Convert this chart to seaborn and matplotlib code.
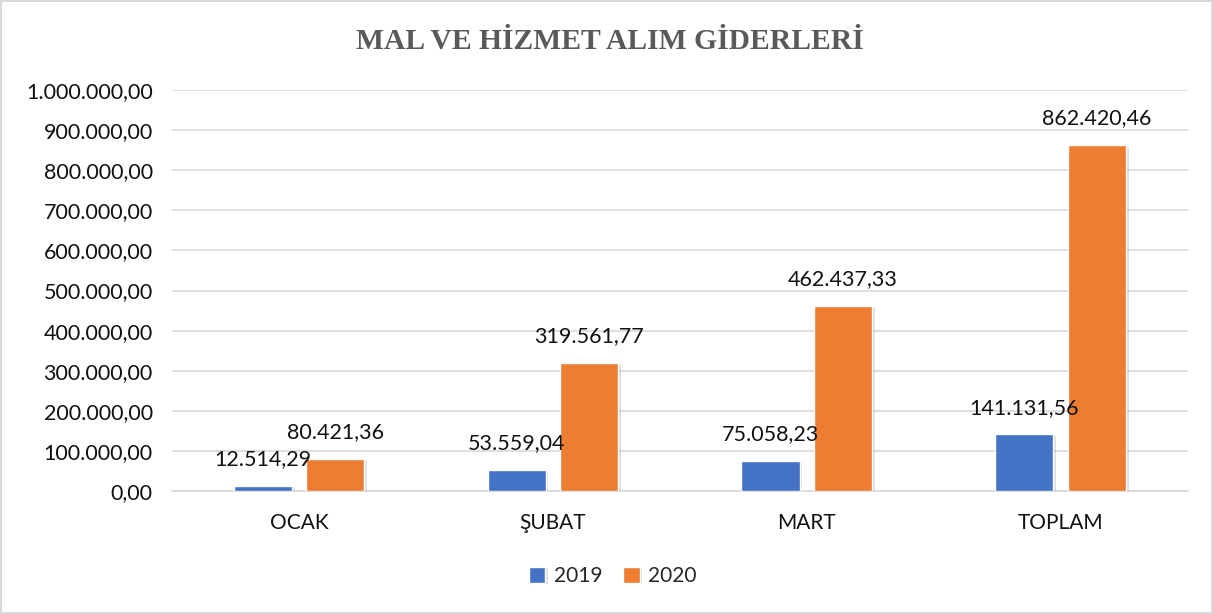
import numpy as np
import pandas as pd
import matplotlib
matplotlib.use("Agg")
import matplotlib.pyplot as plt
import matplotlib.patheffects as pe
import seaborn as sns

# ── Data ──────────────────────────────────────────────────────────────────────
months = ["OCAK", "ŞUBAT", "MART", "TOPLAM"]
years = ["2019", "2020"]
values_2019 = [12514.29, 53559.04, 75058.23, 141131.56]
values_2020 = [80421.36, 319561.77, 462437.33, 862420.46]
y_ticks = np.arange(0, 1_000_001, 100_000)

COLORS = {"2019": "#4472C4", "2020": "#ED7D31"}


def tr_fmt(v):
    """Turkish number format: 1.234,56"""
    return f"{v:,.2f}".replace(",", "X").replace(".", ",").replace("X", ".")


df = pd.DataFrame({
    "ay": months * 2,
    "yil": ["2019"] * len(months) + ["2020"] * len(months),
    "tutar": values_2019 + values_2020,
})

sns.set_theme(style="white")
plt.rcParams["font.family"] = ["Lato", "DejaVu Sans"]

fig = plt.figure(figsize=(12.13, 6.14), dpi=100)
fig.patch.set_edgecolor("#d9d9d9")
fig.patch.set_linewidth(1.5)
ax = fig.add_axes([0.142, 0.2003, 0.837, 0.653])

sns.barplot(data=df, x="ay", y="tutar", hue="yil", hue_order=years,
            palette=COLORS, width=0.572, gap=0.2, saturation=1,
            ax=ax, legend=True, zorder=3)

# soft shadow like the office chart
for bar in ax.patches:
    bar.set_path_effects([
        pe.SimplePatchShadow(offset=(2, -1), shadow_rgbFace="#000000", alpha=0.12),
        pe.Normal(),
    ])

for cont in ax.containers:
    labels = [tr_fmt(b.get_height()) for b in cont]
    ax.bar_label(cont, labels=labels, padding=12, fontsize=15.5, color="#111111")

ax.set_xlim(-0.5, 3.5)
ax.set_ylim(0, 1_000_000)
ax.set_yticks(y_ticks)
ax.set_yticklabels([tr_fmt(t) for t in y_ticks], fontsize=15.5, color="#111111")
ax.tick_params(axis="x", labelsize=15, colors="#111111", pad=16, length=0)
ax.tick_params(axis="y", length=0, pad=14)
ax.yaxis.grid(True, color="#d9d9d9", linewidth=1.2, zorder=0)
ax.set_xlabel("")
ax.set_ylabel("")
for s in ["top", "right", "left"]:
    ax.spines[s].set_visible(False)
ax.spines["bottom"].set_color("#d9d9d9")
ax.spines["bottom"].set_linewidth(1.2)

fig.text(0.503, 0.932, "MAL VE HİZMET ALIM GİDERLERİ", ha="center", va="center",
         fontsize=21.3, fontweight="bold", color="#595959",
         family=["Liberation Serif", "DejaVu Serif"])

handles, lbls = ax.get_legend_handles_labels()
ax.legend_.remove()
fig.legend(handles, lbls, loc="center", bbox_to_anchor=(0.505, 0.062), ncol=2,
           frameon=False, fontsize=15, handlelength=0.8, handleheight=0.8,
           columnspacing=1.0, handletextpad=0.4)

fig.savefig("out.png", dpi=100)
